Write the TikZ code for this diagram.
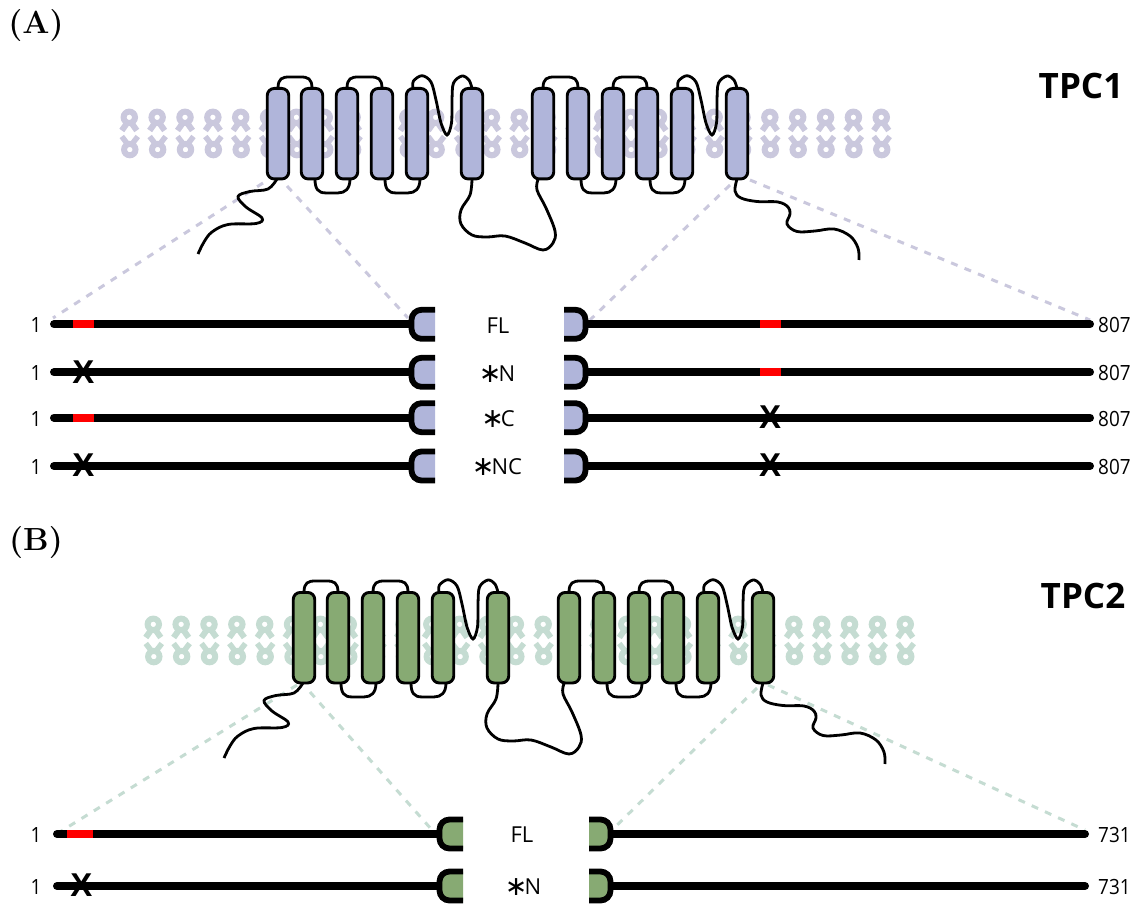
\documentclass[tikz,border=0pt]{standalone}
\usepackage{fontspec}
\usetikzlibrary{calc}
\setsansfont{Open Sans}
\newfontfamily\numfont[FakeStretch=0.9]{Open Sans}
\newfontfamily\starfont{DejaVu Sans}
\newfontfamily\crossfont[BoldFont={Liberation Sans Bold}]{Liberation Sans}
\definecolor{helixA}{HTML}{B0B5DA}
\definecolor{helixB}{HTML}{87AA73}
\definecolor{lipidA}{HTML}{CAC8DD}
\definecolor{lipidB}{HTML}{C5DCD2}
\tikzset{
  helix/.style={draw=black,line width=2.9pt,rounded corners=7pt,minimum width=21.5pt,
    minimum height=90.5pt,inner sep=0pt,outer sep=0pt},
  loopline/.style={draw=black,line width=2.8pt,line cap=butt},
  guide/.style={line width=3pt,dash pattern=on 7pt off 7.5pt},
  barline/.style={line width=8pt,line cap=round},
  capline/.style={line width=5.8pt,rounded corners=10pt,line cap=butt},
  lbl/.style={font=\sffamily\fontsize{22}{24}\selectfont,inner sep=0pt},
  num/.style={font=\numfont\fontsize{21}{24}\selectfont,inner sep=0pt},
  hdr/.style={font=\sffamily\bfseries\fontsize{35}{38}\selectfont,inner sep=0pt},
  panel/.style={font=\bfseries\fontsize{32}{34}\selectfont,inner sep=0pt},
  crossmark/.style={font=\crossfont\bfseries\fontsize{33}{34}\selectfont,inner sep=0pt},
}
% one lipid pair of the bilayer, centred on the column x
\newcommand{\lipidpair}[1]{%
  \draw[line width=6pt] (#1,117.3) circle (5.7pt);
  \draw[line width=6pt] (#1-1.5,122) -- (#1-7.5,130.5);
  \draw[line width=6pt] (#1+1.5,122) -- (#1+7.5,130.5);
  \draw[line width=6pt] (#1+.5,149.6) circle (5.7pt);
  \draw[line width=5.5pt] (#1-1,145) -- (#1-7.5,136.5);
  \draw[line width=5.5pt] (#1+2,145) -- (#1+8.5,136.5);
}
% the twelve-helix channel in its membrane, with its connecting loops and tails
\newcommand{\channel}[1]{%
  \foreach \n/\cx in {1/278,2/312,3/347,4/382,5/417,6/472,7/543,8/578,9/613,10/647,11/682,12/737}
    \node[helix,fill=#1] (h\n) at (\cx,133.7) {};
  \foreach \a/\b in {1/2,3/4,7/8,9/10}
    \draw[loopline] (h\a.north) .. controls ($(h\a.north)+(0,-10)$) and ($(h\a.north)+(4,-11.5)$) .. ($(h\a.north)+(12,-11.5)$)
      -- ($(h\b.north)+(-12,-11.5)$) .. controls ($(h\b.north)+(-4,-11.5)$) and ($(h\b.north)+(0,-10)$) .. (h\b.north);
  \foreach \a/\b in {2/3,4/5,8/9,10/11}
    \draw[loopline] ($(h\a.south)+(3,0)$) .. controls ($(h\a.south)+(3,10)$) and ($(h\a.south)+(6,14)$) .. ($(h\a.south)+(14,14)$)
      -- ($(h\b.south)+(-9,14)$) .. controls ($(h\b.south)+(-2,14)$) and ($(h\b.south)+(3,10)$) .. ($(h\b.south)+(3,0)$);
  \foreach \a/\b/\d in {5/6/0,11/12/265}
    \draw[loopline] plot[smooth,tension=.55] coordinates {($(h\a.north)+(-4,0)$) (413.5+\d,81) (422+\d,75.7) (431+\d,82)
      (436+\d,100) (441+\d,123) (447+\d,135) (451.5+\d,123) (452+\d,100) (453.5+\d,83) (462+\d,76) (469+\d,80) (h\b.north)};
  \draw[loopline] plot[smooth,tension=.6] coordinates {($(h1.south)+(-1,0)$) (268,189) (250,191.5) (238,196.5) (246,207) (262,218)
    (256,223.5) (228,224.5) (212,232) (204,242) (198,254)};
  \draw[loopline] plot[smooth,tension=.6] coordinates {(h6.south) (470,195) (461,210) (461,224) (472,235) (487,237) (505,236) (525,243) (543,250)
    (553,243) (555,231) (546,208) (537,190) (538,179.5)};
  \draw[loopline] plot[smooth,tension=.6] coordinates {(h12.south) (735,191) (741,198) (757,201.5) (778,202) (788,207) (790,214) (787,224)
    (797,231.5) (815,231) (834,229) (850,236) (858,248) (859,260)};
}
% one construct: N-terminal bar, two capped stubs, C-terminal bar
\newcommand{\construct}[5]{%
  \draw[barline] (\barstart,#1) -- (\capL-20,#1);
  \draw[barline] (\capR+20,#1) -- (\barend,#1);
  \draw[capline,fill=\capfill] (\capL,#1-14.5) -- (\capL-23.5,#1-14.5) -- (\capL-23.5,#1+14.5) -- (\capL,#1+14.5);
  \draw[capline,fill=\capfill] (\capR,#1-14.5) -- (\capR+21.5,#1-14.5) -- (\capR+21.5,#1+14.5) -- (\capR,#1+14.5);
  \node[num] (one#1) at (36,#1+1) {1};
  \node[num,anchor=west] (end#1) at (1098,#1+1) {\lastres};
  \node[lbl] (name#1) at (#2,#1+1) {#3};
  #4 #5
}
\newcommand{\motif}[3]{\fill[red] (#1,#3-4) rectangle (#2,#3+4);}
\newcommand{\knockout}[2]{\node[crossmark] at (#1,#2-.5) {X};}
\newcommand{\starlabel}[1]{\smash{\raisebox{-1pt}{\starfont\fontsize{27}{27}\selectfont ∗}}\kern-3pt #1}
\begin{document}
\begin{tikzpicture}[x=1pt,y=-1pt]
\useasboundingbox (0,0) rectangle (1136,904);

\node[panel] (panelA) at (36,26) {(A)};
\node[panel] (panelB) at (36,543) {(B)};
\node[hdr] (titleA) at (1081,86) {TPC1};
\node[hdr] (titleB) at (1083,596) {TPC2};

% TPC1
\begin{scope}[lipidA]
  \foreach \k in {0,...,27} {\pgfmathsetmacro\lx{129.3+27.85*\k}\lipidpair{\lx}}
\end{scope}
\draw[guide,lipidA] (263,183) -- (53,318);
\draw[guide,lipidA] (287,186) -- (408,318);
\draw[guide,lipidA] (730,185) -- (590,320);
\draw[guide,lipidA] (750,180) -- (1090,320);
\channel{helixA}
\def\capfill{helixA}\def\capL{435}\def\capR{564}\def\barstart{54}\def\barend{1090}\def\lastres{807}
\construct{324.3}{498}{FL}{\motif{73}{94}{324.3}}{\motif{760}{781}{324.3}}
\construct{372.3}{497}{\starlabel{N}}{\knockout{83.5}{372.3}}{\motif{760}{781}{372.3}}
\construct{417.7}{498}{\starlabel{C}}{\motif{73}{94}{417.7}}{\knockout{770}{417.7}}
\construct{466}{497}{\starlabel{NC}}{\knockout{83.5}{466}}{\knockout{770}{466}}

% TPC2
\begin{scope}[lipidB]
  \foreach \k in {0,...,27} {\pgfmathsetmacro\lx{153.3+27.85*\k}\begin{scope}[yshift=-507pt]\lipidpair{\lx}\end{scope}}
\end{scope}
\draw[guide,lipidB] (297,685) -- (55,835);
\draw[guide,lipidB] (310,692) -- (432,830);
\draw[guide,lipidB] (757,688) -- (612,830);
\draw[guide,lipidB] (768,685) -- (1085,830);
\begin{scope}[yshift=-504pt,xshift=26pt]
\channel{helixB}
\end{scope}
\def\capfill{helixB}\def\capL{463}\def\capR{589}\def\barstart{57}\def\barend{1085}\def\lastres{731}
\construct{834}{522}{FL}{\motif{67}{93}{834}}{}
\construct{886}{523}{\starlabel{N}}{\knockout{81.5}{886}}{}
\end{tikzpicture}
\end{document}
